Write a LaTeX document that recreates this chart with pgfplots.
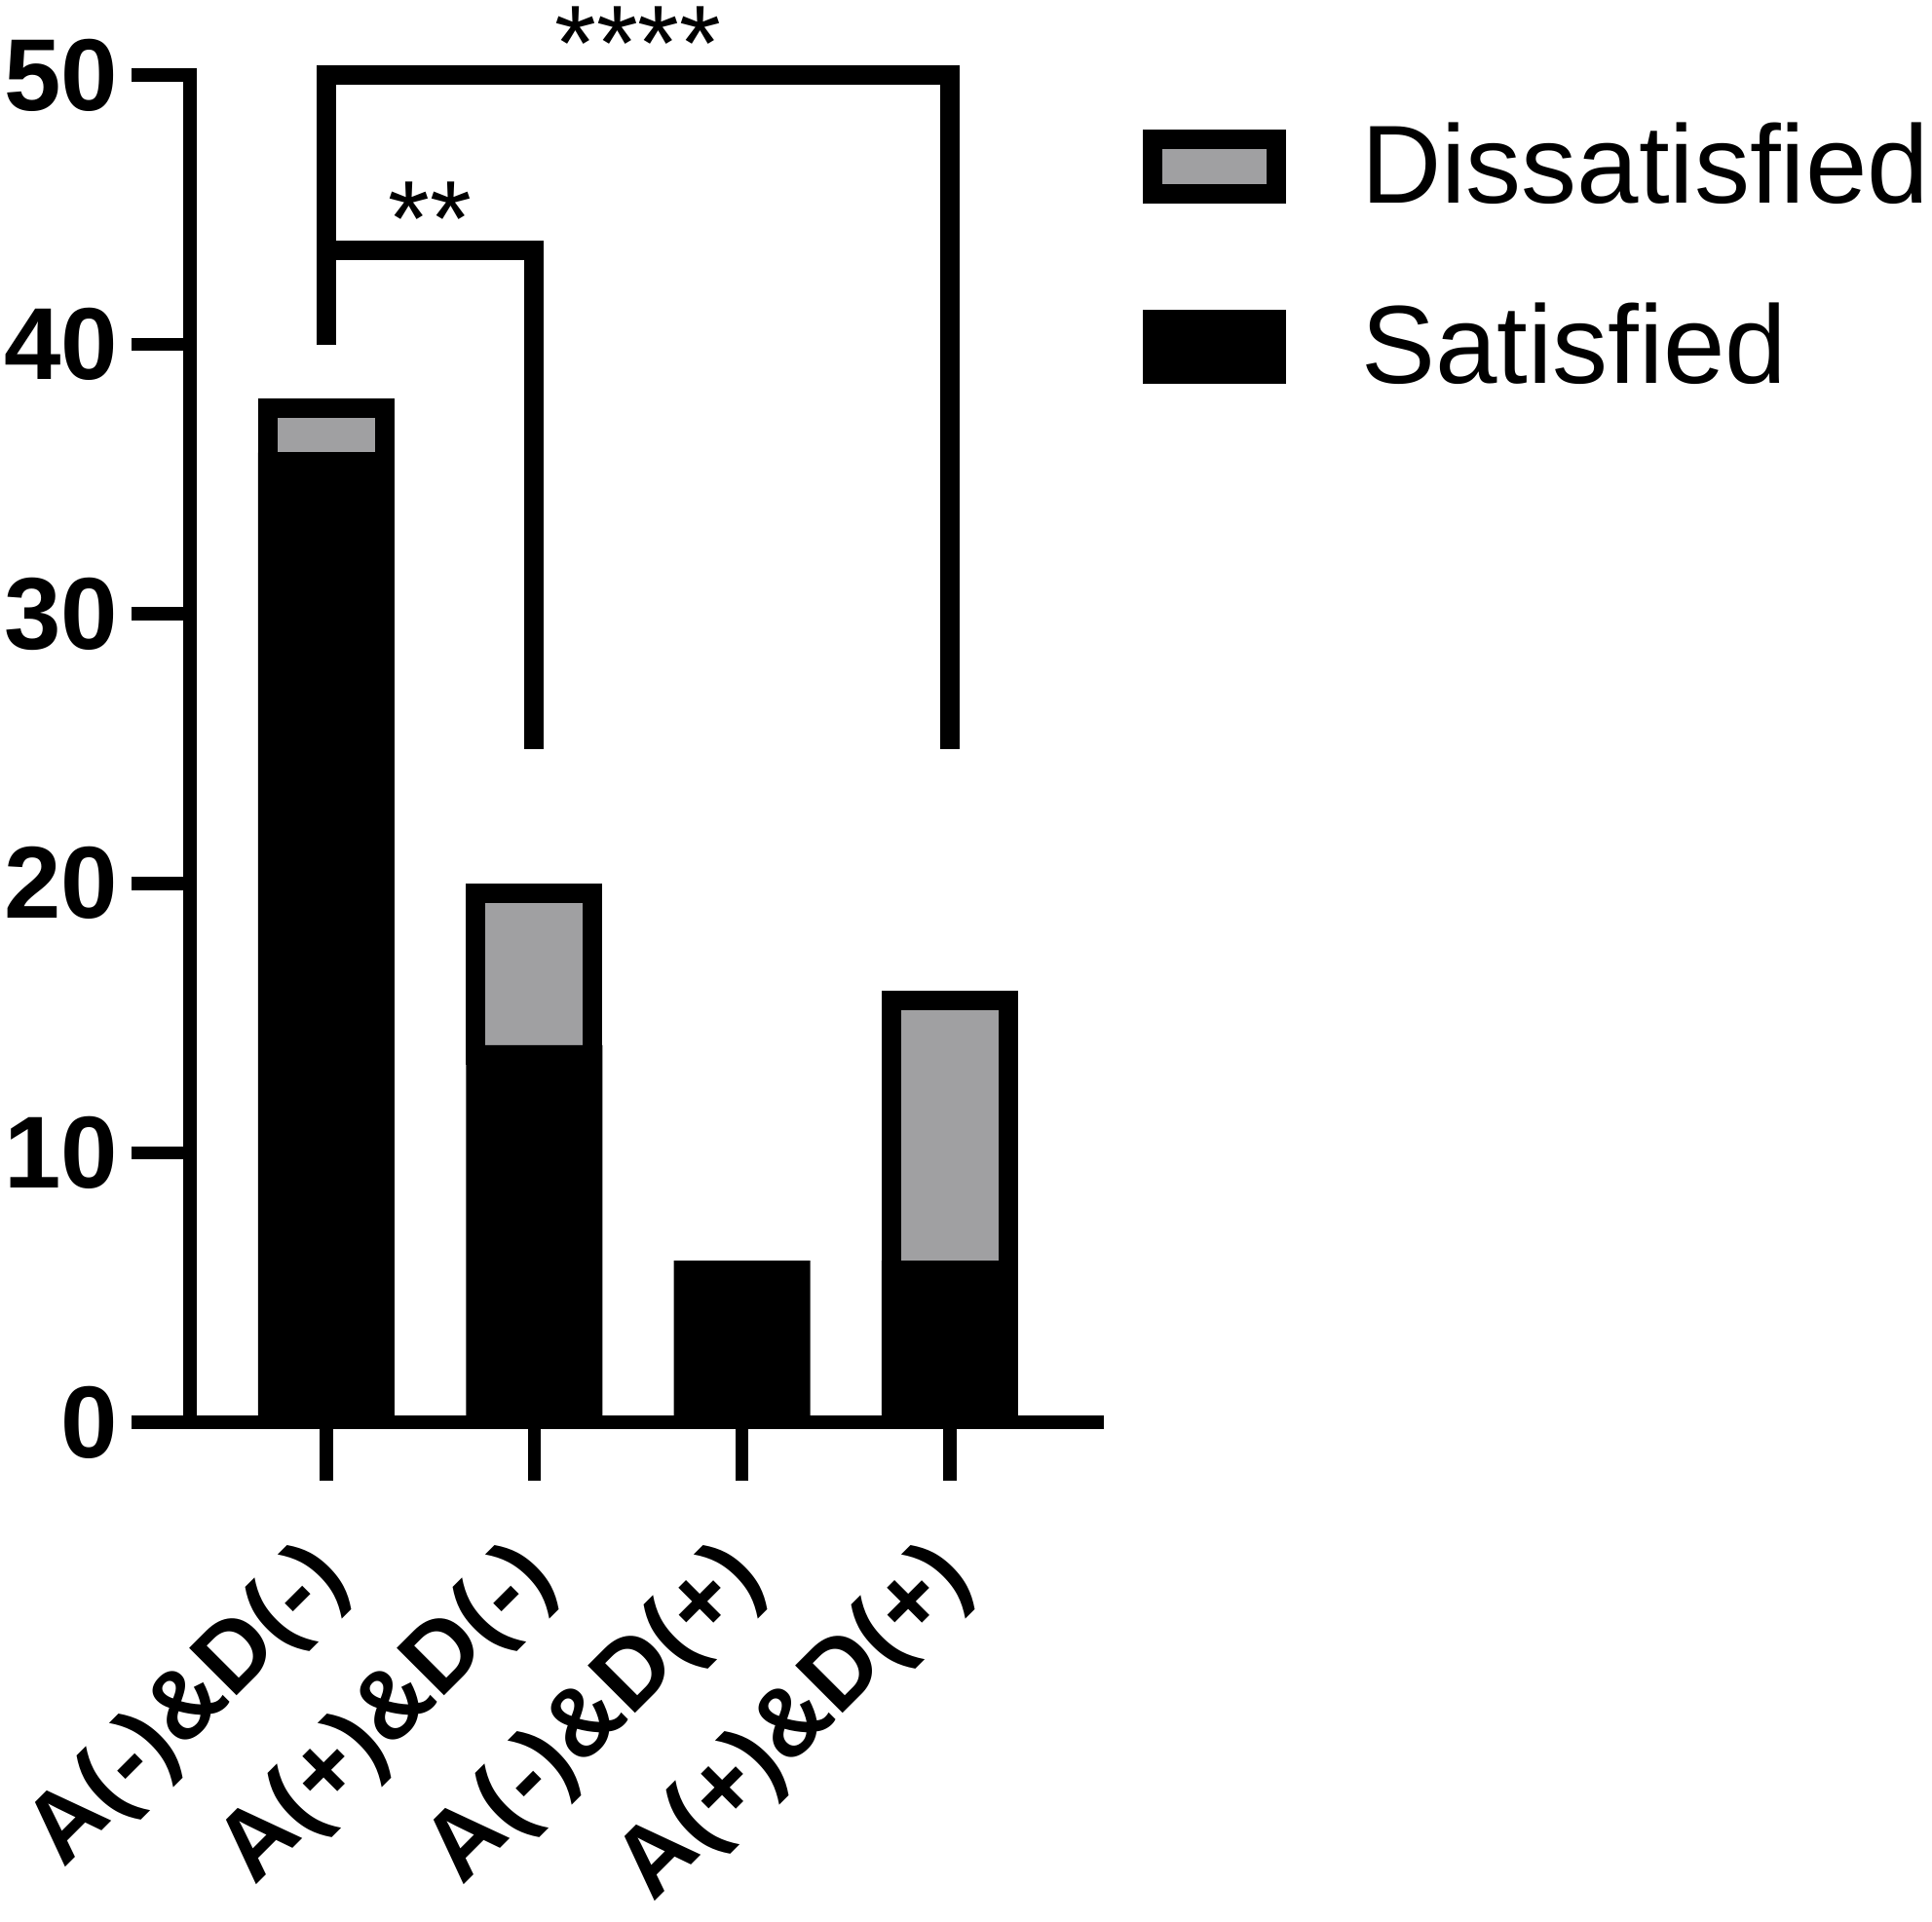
\documentclass[border=0pt]{standalone}
\usepackage{fontspec}
\setmainfont{Liberation Sans}
\usepackage{pgfplots}
\pgfplotsset{compat=1.18}
\definecolor{graybar}{RGB}{160,160,162}
\begin{document}
\begin{tikzpicture}
\begin{axis}[
  at={(0,0)}, anchor=south west,
  scale only axis, width=186.2pt, height=276.6pt,
  ybar stacked,
  xmin=-0.656, xmax=3.708, ymin=0, ymax=50,
  axis x line=bottom, axis y line=left,
  axis line style={line width=2.8pt, -, line cap=rect},
  tick align=outside, major tick length=12pt,
  tick style={line width=2.7pt, black},
  xtick={0,1,2,3},
  xticklabels={A(-)\&D(-),A(+)\&D(-),A(-)\&D(+),A(+)\&D(+)},
  ytick={0,10,20,30,40,50},
  minor tick num=0,
  /pgf/number format/assume math mode=true,
  yticklabel style={font=\fontsize{21}{25}\selectfont\bfseries, inner sep=0pt, anchor=east, xshift=-2.6pt},
  xticklabel style={font=\fontsize{20}{24}\selectfont\bfseries, inner sep=0pt, xshift=1.5pt, yshift=-17pt, rotate=45, anchor=east},
  clip=false,
  legend cell align=left,
  legend style={at={(1.0505,0.9647)}, anchor=north west, draw=none, fill=none,
    inner sep=0pt, outer sep=0pt, font=\fontsize{22.8}{27}\selectfont,
    row sep=19pt, column sep=15.4pt, nodes={inner sep=0pt}},
]
\addlegendimage{legend image code/.code={\fill[black] (0pt,-7.4pt) rectangle (29pt,7.4pt); \fill[graybar] (4pt,-3.4pt) rectangle (25pt,3.4pt);}}
\addlegendimage{legend image code/.code={\fill[black] (0pt,-7.4pt) rectangle (29pt,7.4pt);}}
% Satisfied
\addplot[fill=black, draw=none, bar width=28pt] coordinates {(0,36) (1,14) (2,6) (3,6)};
% Dissatisfied
\addplot[fill=graybar, draw=black, line width=4pt, bar width=24pt, yshift=-2pt] coordinates {(0,2) (1,6) (2,0) (3,10)};
\legend{Dissatisfied,Satisfied}
\draw[line width=4pt, line join=miter] (axis cs:0,40) -- (axis cs:0,50) -- (axis cs:3,50) -- (axis cs:3,25);
\draw[line width=4pt, line join=miter] (axis cs:0,43.5) -- (axis cs:1,43.5) -- (axis cs:1,25);
\node[font=\fontsize{22}{26}\selectfont, anchor=base, inner sep=0pt, yshift=-1.1pt] at (axis cs:1.5,50) {****};
\node[font=\fontsize{22}{26}\selectfont, anchor=base, inner sep=0pt, yshift=-1.1pt] at (axis cs:0.5,43.5) {**};
\end{axis}
\pgfresetboundingbox
\useasboundingbox (-39pt,-102.4pt) rectangle (357.6pt,292pt);
\end{tikzpicture}
\end{document}
